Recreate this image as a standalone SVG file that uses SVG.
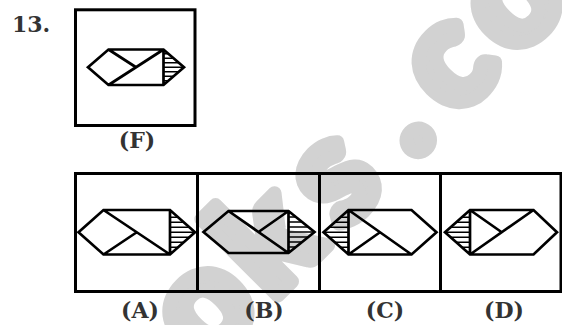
<svg xmlns="http://www.w3.org/2000/svg" width="562" height="325" viewBox="0 0 562 325">
  <style>
    .wm { font-family: Lato, Inter, "DejaVu Sans", sans-serif; font-weight: 900; font-size: 145px; fill: #d2d2d2; stroke: #d2d2d2; stroke-width: 14; stroke-linejoin: round; text-anchor: middle; }
    .box { fill: none; stroke: #000; stroke-width: 3; }
    .ln { fill: none; stroke: #000; stroke-width: 2.7; stroke-linejoin: miter; }
    .ht { fill: none; stroke: #000; stroke-width: 1.6; }
    .lbl { font-family: "DejaVu Serif", "Liberation Serif", serif; font-weight: bold; font-size: 22px; fill: #333; text-anchor: middle; }
  </style>
  <rect width="562" height="325" fill="#fff"/>

  <!-- diagonal watermark behind everything -->
  <g id="watermark" transform="translate(418,140) rotate(-45)">
    <text class="wm" x="-270 -178 -86 0 76 166" y="11">oks.co</text>
  </g>

  <text class="lbl" x="12" y="32" style="text-anchor:start">13.</text>

  <!-- problem figure -->
  <g id="fig-F">
    <rect class="box" x="75.5" y="9.8" width="119.5" height="115.7"/>
    <path class="ln" d="M88,67.25 L108.5,49.5 L163.5,49.5 L184,67.25 L163.5,85 L108.5,85 Z M163.5,49.5 V85 M108.5,85 L163.5,49.5 M108.5,49.5 L136,67.25"/>
    <path class="ht" d="M163.5,67.25 H184 M163.5,62.75 H178.8 M163.5,71.75 H178.8 M163.5,58.25 H173.6 M163.5,76.25 H173.6 M163.5,53.75 H168.4 M163.5,80.75 H168.4"/>
    <text class="lbl" x="137" y="148">(F)</text>
  </g>

  <!-- answer strip -->
  <g id="answer-frame">
    <rect class="box" x="75.5" y="173.5" width="485.5" height="118"/>
    <path class="box" d="M197.5,173.5 V291.5 M319.5,173.5 V291.5 M440.5,173.5 V291.5"/>
  </g>

  <g id="fig-A">
    <path class="ln" d="M78.5,232.25 L103.5,210 L170,210 L195,232.25 L170,254.5 L103.5,254.5 Z M170,210 V254.5 M103.5,210 L170,254.5 M103.5,254.5 L136.75,232.25"/>
    <path class="ht" d="M170,232.25 H195 M170,227.25 H189.4 M170,237.25 H189.4 M170,222.25 H183.8 M170,242.25 H183.8 M170,217.25 H178.1 M170,247.25 H178.1 M170,212.25 H172.5 M170,252.25 H172.5"/>
    <text class="lbl" x="140" y="318">(A)</text>
  </g>

  <g id="fig-B">
    <path class="ln" d="M203.5,232 L228.5,211 L288.5,211 L314.5,232 L288.5,253 L228.5,253 Z M288.5,211 V253 M228.5,211 L288.5,253 M288.5,211 L258.5,232"/>
    <path class="ht" d="M288.5,232 H314.5 M288.5,227 H308.3 M288.5,237 H308.3 M288.5,222 H302.1 M288.5,242 H302.1 M288.5,217 H295.9 M288.5,247 H295.9"/>
    <text class="lbl" x="264" y="318">(B)</text>
  </g>

  <g id="fig-C">
    <path class="ln" d="M323.5,232.25 L348.5,210 L411.5,210 L436.5,232.25 L411.5,254.5 L348.5,254.5 Z M348.5,210 V254.5 M348.5,210 L411.5,254.5 M348.5,254.5 L380,232.25"/>
    <path class="ht" d="M348.5,232.25 H323.5 M348.5,227.25 H329.1 M348.5,237.25 H329.1 M348.5,222.25 H334.7 M348.5,242.25 H334.7 M348.5,217.25 H340.4 M348.5,247.25 H340.4 M348.5,212.25 H346 M348.5,252.25 H346"/>
    <text class="lbl" x="385" y="318">(C)</text>
  </g>

  <g id="fig-D">
    <path class="ln" d="M445,232.25 L470,210 L533.5,210 L557,232.25 L533.5,254.5 L470,254.5 Z M470,210 V254.5 M470,254.5 L533.5,210 M470,210 L501.75,232.25"/>
    <path class="ht" d="M470,232.25 H445 M470,227.25 H450.6 M470,237.25 H450.6 M470,222.25 H456.2 M470,242.25 H456.2 M470,217.25 H461.9 M470,247.25 H461.9 M470,212.25 H467.5 M470,252.25 H467.5"/>
    <text class="lbl" x="504" y="318">(D)</text>
  </g>
</svg>
